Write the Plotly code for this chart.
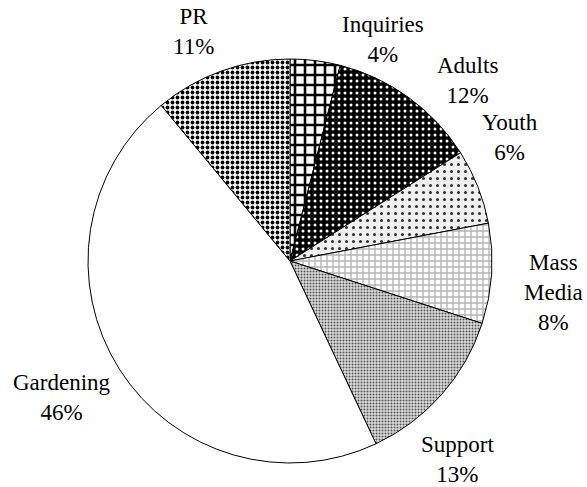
import plotly.graph_objects as go

categories = ["Inquiries", "Adults", "Youth", "Mass Media", "Support", "Gardening", "PR"]
display_names = ["Inquiries", "Adults", "Youth", "Mass<br>Media", "Support", "Gardening", "PR"]
values = [4, 12, 6, 8, 13, 46, 11]

# label centres in px (top-left origin)
label_x = [383, 467, 510, 553, 457, 62, 193]
label_y = [39, 81, 137, 292, 459, 397, 31]

shapes = ["+", ".", ".", "+", ".", "", "."]
fg = ["black", "white", "#333333", "#b4b4b4", "#555555", "white", "black"]
bg = ["white", "black", "#f0f0f0", "white", "#dcdcdc", "white", "white"]
sizes = [10, 6, 7, 6, 3, 8, 5]
solid = [0.45, 0.2, 0.15, 0.4, 0.35, 0.1, 0.45]

W, H = 587, 487
cx, cy, r = 290, 261, 202

fig = go.Figure(go.Pie(
    labels=categories, values=values,
    sort=False, direction="clockwise", rotation=0,
    textinfo="none", hoverinfo="label+percent",
    marker=dict(colors=bg, line=dict(color="black", width=1),
                pattern=dict(shape=shapes, fgcolor=fg, bgcolor=bg,
                             size=sizes, solidity=solid, fillmode="replace")),
    domain=dict(x=[(cx - r) / W, (cx + r) / W], y=[1 - (cy + r) / H, 1 - (cy - r) / H]),
    showlegend=False,
))

total = sum(values)
for name, v, x, y in zip(display_names, values, label_x, label_y):
    fig.add_annotation(x=x / W, y=1 - y / H, xref="paper", yref="paper",
                       text=f"{name}<br>{round(100 * v / total)}%", showarrow=False,
                       xanchor="center", yanchor="middle", align="center",
                       font=dict(family="Liberation Serif", size=23, color="black"))

fig.update_layout(width=W, height=H, paper_bgcolor="white", plot_bgcolor="white",
                  margin=dict(l=0, r=0, t=0, b=0))
# drop the default 8px body margin so the figure fills the window
fig.write_html("out.html", config={"displayModeBar": False},
               post_script="document.body.style.margin='0px';")
